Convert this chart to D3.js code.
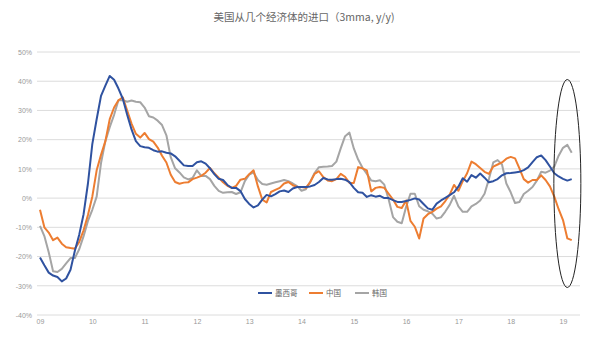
<!DOCTYPE html>
<html>
<head>
<meta charset="utf-8">
<script src="https://cdn.jsdelivr.net/npm/d3@7"></script>
<style>
  body { margin: 0; background: #fff; }
  svg { font-family: "Noto Sans CJK SC", "Noto Sans", sans-serif; }
</style>
</head>
<body>
<div id="chart"></div>
<script>
// monthly, Jan 2009 .. Mar 2019 (3mma, y/y, %)
var yearLabels = ["09", "10", "11", "12", "13", "14", "15", "16", "17", "18", "19"];
var yTicks = [-40, -30, -20, -10, 0, 10, 20, 30, 40, 50];
var seriesNames = ["墨西哥", "中国", "韩国"];

var mexico = [
  -20.3, -23, -25.5, -26.5, -27, -28.5, -27.5, -24.5, -18, -12.5, -5.5, 5,
  18.5, 27, 35, 38.5, 41.8, 40.5, 37.5, 34, 28.5, 23.5, 19.5, 17.8,
  17.4, 17.2, 16.4, 15.9, 16, 15.5, 15.3, 14.3, 12.8, 11.2, 11, 11,
  12.3, 12.6, 11.8, 10.2, 8.2, 6.6, 6.2, 4.5, 3.5, 3.5, 2.4, -0.3,
  -2, -3.2, -2.5, -0.5, 1.1, 0.6, 1.4, 2.3, 2.6, 2.1, 3.3, 3.8,
  3.8, 3.8, 4.0, 4.5, 5.5, 6.9, 6.4, 6.3, 6.5, 6.6, 6.3, 5.5,
  3.5, 2, 1.8, 0.4, 1.0, 0.5, 0.8, 0, 0, -0.7, -1.3, -1.3,
  -1.0, -0.6, -0.1, -0.5, -2, -3.5, -4.0, -1.9, -0.8, 0.1, 1.0, 2.0,
  3.9, 6.8, 5.6, 7.9, 7.0, 8.4, 7.0, 5.4, 5.8, 6.5, 7.8, 8.5,
  8.6, 8.8, 9.0, 9.6, 10.5, 12.3, 14.0, 14.6, 13.0, 10.8, 8.5, 7.4,
  6.6, 6.0, 6.5
];

var china = [
  -4, -10, -11.8, -14.4, -13.5, -15.6, -16.8, -17.1, -17.3, -15, -11, -5.8,
  0.5, 9.5, 14.8, 19.5, 27, 31, 33.5, 34.5, 30, 25.5, 22, 20.7,
  22.3, 20.2, 19.3, 17.3, 14.5, 12.2, 8, 5.5, 4.9, 5.3, 5.4, 6.5,
  7.0, 7.6, 8.7, 10.3, 8.5, 7, 5.4, 4.2, 3.5, 4.2, 6.3, 6.6,
  8.2, 9.5, 4, -0.5, -1.5, 2.1, 2.8, 3.5, 5.0, 5.5, 4.4, 3.8,
  3.8, 3.5, 5.5, 8.3, 9.2, 7.2, 6.0, 5.8, 6.5, 8.3, 7.3, 5.2,
  5.2, 10.6, 10.2, 9.5, 2.3, 3.5, 3.8, 3.5, 1.5, -0.5, -3, -3.4,
  -0.8, -7.8, -9.8, -13.8, -7, -5.5, -4.7, -3.6, -2.8, -1, 1.2, 4.5,
  2.5, 5.8, 8.5, 12.5, 11.6, 10.3, 9, 8.3, 10.8, 11.5, 12.2, 13.5,
  14.1, 13.6, 10.2, 6.5, 5.3, 6.2, 6.2, 7.8, 6.2, 4, 0.5, -3.8,
  -7.5, -13.8, -14.4
];

var korea = [
  -9.5, -13, -18.5, -25, -25.3, -24.2, -22.3, -20.5, -20.5, -17.5, -13, -7.8,
  -4, 0.5, 12, 19.5, 24.3, 28.5, 33.5, 33.5, 33, 33.4, 33, 32.8,
  31, 28, 27.6, 26.5, 25, 21.5, 14, 10.2, 8.8, 7.1, 6.4, 6.9,
  9.5, 7.6, 7.6, 6.5, 4.2, 2.5, 1.8, 2.0, 2.1, 1.4, 2.0, 5.8,
  8.0, 8.8, 6.2, 4.8, 4.6, 5.0, 5.4, 5.8, 6.2, 5.8, 5.0, 4.1,
  2.5, 3.0, 5.5, 8.6, 10.6, 10.7, 10.8, 11, 12.5, 17, 21.2, 22.4,
  17, 13.2, 10.4, 8.3, 6, 5.8, 6.1, 4.6, -0.5, -6.5, -8.1, -8.6,
  -3, 1.5, 1.5, -2.8, -4, -4.5, -5.3, -7, -6.6, -4.6, -2.3, 0.8,
  -2.8, -4.7, -4.7, -2.8, -2, -0.8, 1.5, 6.5, 12.2, 13, 11.5, 5,
  2, -1.7, -1.3, 1.4, 2.5, 3.8, 6, 9, 8.7, 9.4, 10.8, 14.5,
  17.2, 18.2, 15.5
];

var colors = ["#2f52a0", "#ed7d31", "#a5a5a5"];

var width = 606, height = 351;

var x = d3.scaleLinear()
    .domain([0, 120])
    .range([40, 563]);

var y = d3.scaleLinear()
    .domain([-40, 50])
    .range([315, 52]);

var svg = d3.select("#chart").append("svg")
    .attr("width", width)
    .attr("height", height);

// title
svg.append("text")
    .attr("x", 304)
    .attr("y", 21)
    .attr("text-anchor", "middle")
    .attr("font-size", 10.5)
    .attr("fill", "#666")
    .text("美国从几个经济体的进口（3mma, y/y)");

// gridlines
svg.append("g")
    .selectAll("line")
    .data(yTicks)
    .join("line")
    .attr("x1", 37)
    .attr("x2", 580)
    .attr("y1", function(d) { return y(d); })
    .attr("y2", function(d) { return y(d); })
    .attr("stroke", "#dcdcdc")
    .attr("stroke-width", 1);

// y axis labels
var yAxis = d3.axisLeft(y)
    .tickValues(yTicks)
    .tickSize(0)
    .tickPadding(0)
    .tickFormat(function(d) { return d + "%"; });

svg.append("g")
    .attr("transform", "translate(32,0)")
    .call(yAxis)
    .call(function(g) { g.select(".domain").remove(); })
    .selectAll("text")
    .attr("font-size", 7)
    .attr("fill", "#999")
    .attr("font-family", "Liberation Sans, sans-serif");

// x axis labels
var xAxis = d3.axisBottom(x)
    .tickValues(d3.range(0, 121, 12))
    .tickSize(0)
    .tickPadding(0)
    .tickFormat(function(d, i) { return yearLabels[i]; });

svg.append("g")
    .attr("transform", "translate(0,319)")
    .call(xAxis)
    .call(function(g) { g.select(".domain").remove(); })
    .selectAll("text")
    .attr("font-size", 7)
    .attr("fill", "#999")
    .attr("font-family", "Liberation Sans, sans-serif");

var line = d3.line()
    .x(function(d, i) { return x(i); })
    .y(function(d) { return y(d); });

var allSeries = [korea, china, mexico];
var allColors = [colors[2], colors[1], colors[0]];

svg.append("g")
    .selectAll("path")
    .data(allSeries)
    .join("path")
    .attr("d", line)
    .attr("fill", "none")
    .attr("stroke", function(d, i) { return allColors[i]; })
    .attr("stroke-width", 2)
    .attr("stroke-linejoin", "round");

// legend
var legendX = [258, 309, 355];
var legend = svg.append("g")
    .selectAll("g")
    .data(seriesNames)
    .join("g")
    .attr("transform", function(d, i) { return "translate(" + legendX[i] + ",293)"; });

legend.append("line")
    .attr("x1", 0)
    .attr("x2", 14)
    .attr("stroke", function(d, i) { return colors[i]; })
    .attr("stroke-width", 2);

legend.append("text")
    .attr("x", 17)
    .attr("dy", "0.35em")
    .attr("font-size", 7.5)
    .attr("fill", "#666")
    .text(function(d) { return d; });

// annotation ellipse around the latest months
svg.append("ellipse")
    .attr("cx", x(121))
    .attr("cy", y(5))
    .attr("rx", 13.5)
    .attr("ry", 104)
    .attr("fill", "none")
    .attr("stroke", "#222")
    .attr("stroke-width", 1);
</script>
</body>
</html>
